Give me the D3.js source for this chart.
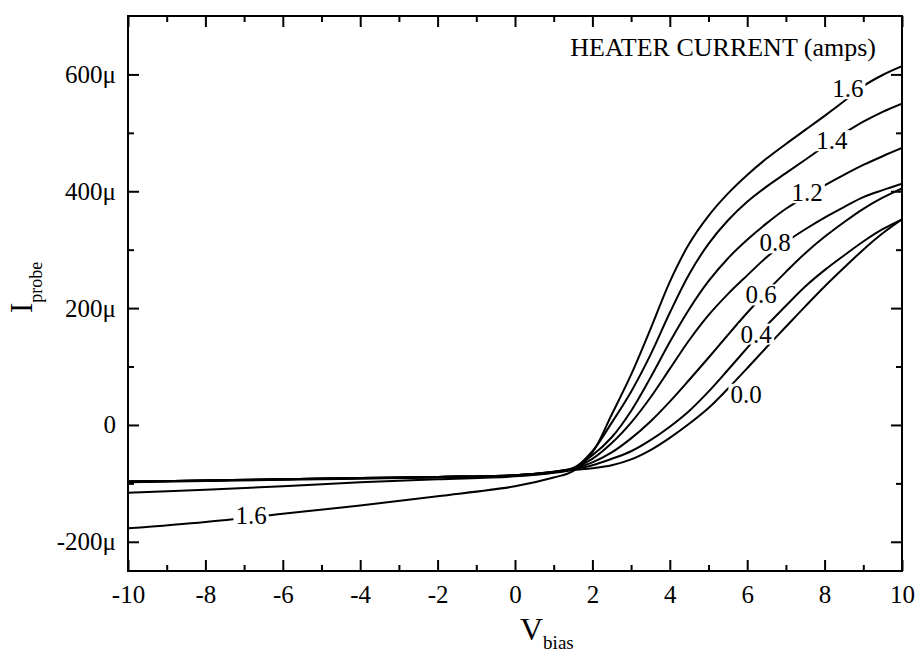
<!DOCTYPE html>
<html>
<head>
<meta charset="utf-8">
<script src="https://cdn.jsdelivr.net/npm/d3@7"></script>
<style>
	body { margin: 0; background: #fff; }
	svg, svg text { font-family: "Liberation Serif", "Times New Roman", serif; }
</style>
</head>
<body>
<div id="chartDiv"></div>
<script>
// bias voltage samples (V), shared by every curve
const vBias = [-10, -8, -6, -4, -2, 0, 1, 1.5, 2, 2.5, 3, 3.5, 4, 4.5, 5, 5.5, 6, 6.5, 7, 7.5, 8, 8.5, 9, 9.5, 10];

// probe current (micro amps) for each heater current
const heaterAmps = ['0.0', '0.4', '0.6', '0.8', '1.2', '1.4', '1.6'];
const iProbe00 = [-97, -95, -93, -91, -89, -86, -81, -77, -74, -69, -59, -43, -22, 2, 29, 62, 97, 133, 168, 203, 237, 269, 300, 328, 352];
const iProbe04 = [-97, -95, -93, -91, -89, -86, -81, -76, -69, -58, -45, -26, -3, 24, 57, 94, 132, 170, 204, 237, 265, 290, 314, 335, 352];
const iProbe06 = [-97, -95, -93, -91, -89, -86, -80, -75, -64, -47, -23, 6, 40, 77, 115, 154, 192, 228, 262, 294, 322, 347, 370, 389, 405];
const iProbe08 = [-97, -95, -93, -91, -89, -86, -80, -74, -58, -31, 4, 47, 96, 145, 188, 224, 256, 287, 313, 335, 355, 373, 390, 402, 413];
const iProbe12 = [-98, -96, -94, -92, -90, -87, -81, -74, -52, -21, 24, 81, 142, 198, 246, 285, 317, 345, 370, 391, 410, 428, 445, 460, 474];
const iProbe14 = [-116, -111, -105, -98, -93, -88, -82, -75, -45, 4, 57, 120, 192, 258, 310, 350, 382, 408, 431, 454, 477, 499, 519, 536, 550];
const iProbe16 = [-177, -166, -152, -138, -122, -105, -90, -79, -47, 18, 86, 164, 245, 310, 358, 396, 428, 456, 481, 505, 529, 554, 580, 599, 614];
const allProbe = [iProbe00, iProbe04, iProbe06, iProbe08, iProbe12, iProbe14, iProbe16];

// inline curve labels: text and where they sit (V, micro amps)
const labelText = ['1.6', '1.4', '1.2', '0.8', '0.6', '0.4', '0.0', '1.6'];
const labelV    = [8.6, 8.19, 7.55, 6.72, 6.36, 6.23, 5.97, -6.82];
const labelI    = [576, 487, 398, 312, 223, 156, 53, -154];

// axes
const xTicks = [-10, -8, -6, -4, -2, 0, 2, 4, 6, 8, 10];
const xMinor = d3.range(-9, 10, 2);
const yTicks = [-200, 0, 200, 400, 600];
const yMinor = [-100, 100, 300, 500];

const W = 917, H = 656;
const frame = { left: 128, right: 902, top: 16, bottom: 571 };
const serif = '"Liberation Serif", "Times New Roman", serif';

function makeSvg(divID){
	const div = document.getElementById(divID);
	const svg = d3.select(div).append('svg')
		.attr('width', W)
		.attr('height', H);
	return svg;
}

function yFormat(d){
	return d === 0 ? '0' : String(d) + 'μ';
}

function styleAxis(g){
	g.attr('font-family', serif).attr('font-size', 25);
	g.select('.domain').remove();
	g.selectAll('.tick line').attr('stroke', '#000').attr('stroke-width', 2);
	g.selectAll('.tick text')
		.attr('fill', '#000')
		.attr('font-family', serif)
		.attr('font-size', 25);
}

function buildChart(){
	const svg = makeSvg('chartDiv');

	const x = d3.scaleLinear().domain([-10, 10]).range([frame.left, frame.right]);
	const y = d3.scaleLinear().domain([-250, 700]).range([frame.bottom, frame.top]);

	svg.append('defs').append('clipPath').attr('id', 'plotClip')
		.append('rect')
		.attr('x', frame.left).attr('y', frame.top)
		.attr('width', frame.right - frame.left)
		.attr('height', frame.bottom - frame.top);

	// ticks, all pointing inward
	svg.append('g').attr('transform', `translate(0,${frame.bottom})`)
		.call(d3.axisBottom(x).tickValues(xTicks).tickSize(-11).tickPadding(14).tickFormat(d => String(d)))
		.call(styleAxis);
	svg.append('g').attr('transform', `translate(0,${frame.bottom})`)
		.call(d3.axisBottom(x).tickValues(xMinor).tickSize(-6).tickFormat(''))
		.call(styleAxis);
	svg.append('g').attr('transform', `translate(0,${frame.top})`)
		.call(d3.axisTop(x).tickValues(xTicks).tickSize(-11).tickFormat(''))
		.call(styleAxis);
	svg.append('g').attr('transform', `translate(0,${frame.top})`)
		.call(d3.axisTop(x).tickValues(xMinor).tickSize(-6).tickFormat(''))
		.call(styleAxis);

	svg.append('g').attr('transform', `translate(${frame.left},0)`)
		.call(d3.axisLeft(y).tickValues(yTicks).tickSize(-11).tickPadding(12).tickFormat(yFormat))
		.call(styleAxis);
	svg.append('g').attr('transform', `translate(${frame.left},0)`)
		.call(d3.axisLeft(y).tickValues(yMinor).tickSize(-6).tickFormat(''))
		.call(styleAxis);
	svg.append('g').attr('transform', `translate(${frame.right},0)`)
		.call(d3.axisRight(y).tickValues(yTicks).tickSize(-11).tickFormat(''))
		.call(styleAxis);
	svg.append('g').attr('transform', `translate(${frame.right},0)`)
		.call(d3.axisRight(y).tickValues(yMinor).tickSize(-6).tickFormat(''))
		.call(styleAxis);

	// curves
	const line = d3.line()
		.x((d, i) => x(vBias[i]))
		.y(d => y(d))
		.curve(d3.curveCatmullRom.alpha(0.5));

	svg.append('g').attr('clip-path', 'url(#plotClip)')
		.selectAll('path')
		.data(allProbe)
		.enter()
		.append('path')
		.attr('class', (d, i) => 'curve amps' + heaterAmps[i])
		.attr('d', line)
		.attr('fill', 'none')
		.attr('stroke', '#000')
		.attr('stroke-width', 2);

	// inline labels with a white box that cuts the curve
	const labG = svg.append('g');
	labelText.forEach((t, i) => {
		const g = labG.append('g');
		const txt = g.append('text')
			.attr('x', x(labelV[i]))
			.attr('y', y(labelI[i]))
			.attr('dy', '0.35em')
			.attr('text-anchor', 'middle')
			.attr('font-size', 25)
			.text(t);
		const bb = txt.node().getBBox();
		g.insert('rect', 'text')
			.attr('x', bb.x - 2).attr('y', bb.y + 3)
			.attr('width', bb.width + 4).attr('height', bb.height - 6)
			.attr('fill', '#fff');
	});

	// frame
	svg.append('rect')
		.attr('x', frame.left).attr('y', frame.top)
		.attr('width', frame.right - frame.left)
		.attr('height', frame.bottom - frame.top)
		.attr('fill', 'none')
		.attr('stroke', '#000')
		.attr('stroke-width', 2);

	svg.append('text')
		.attr('x', 876).attr('y', 56)
		.attr('text-anchor', 'end')
		.attr('font-size', 26)
		.text('HEATER CURRENT (amps)');

	// axis titles
	const xt = svg.append('text').attr('x', 520).attr('y', 640).attr('font-size', 32);
	xt.append('tspan').text('V');
	xt.append('tspan').attr('font-size', 19).attr('dy', 9).text('bias');

	const yt = svg.append('text')
		.attr('transform', 'translate(32,313) rotate(-90)')
		.attr('font-size', 31);
	yt.append('tspan').text('I');
	yt.append('tspan').attr('font-size', 18).attr('dy', 10).text('probe');
}

buildChart();
</script>
</body>
</html>
